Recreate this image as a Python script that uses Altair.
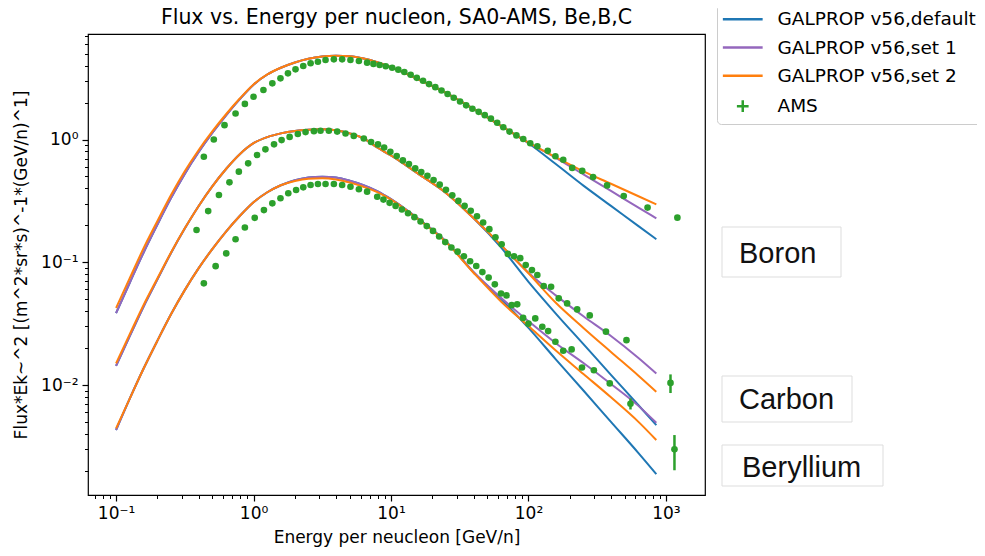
import altair as alt
import pandas as pd

# ---------------- data ----------------
MODEL_E = [0.1, 0.126, 0.158, 0.2, 0.251, 0.316, 0.398, 0.501, 0.631, 0.794, 1.0, 1.26, 1.58, 2.0,
           2.51, 3.16, 3.98, 5.01, 6.31, 7.94, 10.0, 15.8, 25.1, 39.8, 63.1, 100, 158, 251, 398, 631, 851]

C_SET2 = [0.0424, 0.0745, 0.129, 0.217, 0.353, 0.551, 0.818, 1.164, 1.607, 2.158, 2.812, 3.388, 3.846, 4.246,
          4.55, 4.742, 4.808, 4.764, 4.571, 4.266, 3.89, 3.09, 2.399, 1.778, 1.291, 0.944, 0.719, 0.55, 0.436, 0.345, 0.296]
C_SET1 = [0.0385, 0.0684, 0.119, 0.203, 0.333, 0.525, 0.787, 1.130, 1.574, 2.133, 2.799, 3.388, 3.846, 4.246,
          4.55, 4.742, 4.808, 4.764, 4.571, 4.266, 3.89, 3.09, 2.399, 1.778, 1.291, 0.944, 0.71, 0.52, 0.381, 0.279, 0.228]
C_DEF = [0.0385, 0.0684, 0.119, 0.203, 0.333, 0.525, 0.787, 1.130, 1.574, 2.133, 2.799, 3.388, 3.846, 4.246,
         4.55, 4.742, 4.808, 4.764, 4.571, 4.266, 3.89, 3.09, 2.399, 1.778, 1.291, 0.933, 0.631, 0.421, 0.288, 0.197, 0.154]

B_SET2 = [0.0150, 0.0261, 0.0445, 0.0741, 0.120, 0.189, 0.286, 0.415, 0.575, 0.759, 0.933, 1.047, 1.122, 1.175,
          1.202, 1.211, 1.189, 1.122, 1.023, 0.861, 0.741, 0.525, 0.367, 0.229, 0.138, 0.0813, 0.0468, 0.0292, 0.0186, 0.0119, 0.0088]
B_SET1 = [0.0143, 0.0251, 0.0432, 0.0726, 0.119, 0.188, 0.286, 0.415, 0.575, 0.759, 0.933, 1.047, 1.122, 1.175,
          1.202, 1.211, 1.189, 1.122, 1.023, 0.861, 0.741, 0.525, 0.367, 0.229, 0.138, 0.0822, 0.0537, 0.0363, 0.0251, 0.0166, 0.0124]
B_DEF = [0.0143, 0.0251, 0.0432, 0.0726, 0.119, 0.188, 0.286, 0.415, 0.575, 0.759, 0.933, 1.047, 1.122, 1.175,
         1.202, 1.211, 1.189, 1.122, 1.023, 0.861, 0.741, 0.525, 0.367, 0.229, 0.132, 0.0692, 0.0382, 0.0215, 0.0121, 0.00684, 0.00471]

BE_SET2 = [0.00443, 0.00778, 0.0135, 0.0230, 0.0377, 0.0593, 0.0891, 0.128, 0.178, 0.238, 0.308, 0.372, 0.424, 0.460,
           0.480, 0.484, 0.473, 0.447, 0.412, 0.373, 0.324, 0.224, 0.146, 0.0822, 0.0479, 0.0302, 0.0191, 0.0123, 0.00794, 0.00501, 0.00356]
BE_SET1 = [0.0043, 0.00778, 0.0135, 0.0230, 0.0377, 0.0593, 0.0891, 0.128, 0.178, 0.238, 0.308, 0.372, 0.424, 0.466,
           0.490, 0.498, 0.49, 0.462, 0.425, 0.38, 0.327, 0.226, 0.148, 0.0832, 0.0513, 0.0331, 0.0219, 0.0151, 0.0102, 0.00676, 0.00492]
BE_DEF = [0.0043, 0.00778, 0.0135, 0.0230, 0.0377, 0.0593, 0.0891, 0.128, 0.178, 0.238, 0.308, 0.372, 0.424, 0.466,
          0.490, 0.498, 0.49, 0.462, 0.425, 0.38, 0.327, 0.226, 0.148, 0.0832, 0.0501, 0.0292, 0.0162, 0.00902, 0.00501, 0.00279, 0.00188]

AMS_C_E = [0.435, 0.514, 0.615, 0.74, 0.865, 1.0, 1.18, 1.37, 1.57, 1.78, 2.02, 2.3, 2.6, 2.94, 3.34, 3.84, 4.41,
           5.07, 5.84, 6.7, 7.45, 8.26, 9.16, 10.2, 11.3, 12.5, 13.9, 15.4, 17.1, 18.9, 21.0, 23.3, 25.8, 28.6, 31.8,
           35.2, 39.1, 43.4, 48.1, 53.3, 59.2, 65.6, 72.8, 81.7, 91.6, 103, 116, 138, 157, 179, 208, 246, 295, 373,
           493, 735, 1211]
AMS_C_F = [0.724, 1.0, 1.31, 1.63, 1.95, 2.23, 2.53, 2.87, 3.15, 3.46, 3.73, 3.97, 4.18, 4.3, 4.45, 4.5, 4.5,
           4.45, 4.36, 4.23, 4.13, 4.05, 3.95, 3.84, 3.71, 3.55, 3.37, 3.18, 3.01, 2.83, 2.67, 2.51, 2.35, 2.19, 2.04,
           1.90, 1.78, 1.68, 1.58, 1.48, 1.37, 1.26, 1.16, 1.08, 1.01, 0.933, 0.881, 0.809, 0.73, 0.684, 0.587, 0.555,
           0.494, 0.423, 0.347, 0.279, 0.231]

AMS_B_E = [0.385, 0.468, 0.56, 0.668, 0.782, 0.914, 1.06, 1.22, 1.41, 1.6, 1.83, 2.1, 2.39, 2.75, 3.07, 3.53, 4.06,
           4.67, 5.36, 6.34, 7.16, 8.04, 8.91, 9.89, 11.0, 12.2, 13.5, 15.0, 16.6, 18.4, 20.4, 22.6, 25.1, 27.9, 30.9,
           34.3, 38.0, 42.2, 46.8, 51.9, 57.5, 63.8, 70.8, 78.5, 87.1, 95.5, 106, 116, 129, 146, 166, 191, 226, 279,
           366, 516, 1079]
AMS_B_F = [0.183, 0.261, 0.353, 0.448, 0.547, 0.64, 0.748, 0.832, 0.914, 0.99, 1.05, 1.11, 1.15, 1.17, 1.18, 1.18,
           1.16, 1.12, 1.07, 1.02, 0.955, 0.912, 0.861, 0.794, 0.733, 0.676, 0.631, 0.582, 0.543, 0.507, 0.468, 0.429,
           0.389, 0.351, 0.316, 0.288, 0.263, 0.237, 0.211, 0.186, 0.160, 0.140, 0.117, 0.112, 0.108, 0.0948, 0.0863,
           0.0787, 0.064, 0.0631, 0.0508, 0.0462, 0.0413, 0.0369, 0.0272, 0.0232, 0.0104]

AMS_BE_E = [0.435, 0.53, 0.633, 0.74, 0.865, 1.02, 1.19, 1.37, 1.57, 1.79, 2.04, 2.3, 2.6, 2.94, 3.34, 3.84, 4.41,
            5.07, 5.84, 6.7, 7.94, 8.81, 9.77, 10.8, 12.0, 13.3, 14.8, 16.4, 18.2, 20.2, 22.4, 24.8, 27.5, 30.5, 33.9,
            37.6, 41.7, 46.2, 51.3, 56.9, 63.1, 69.2, 75.5, 82.8, 91.4, 100, 112, 126, 139, 157, 179, 206, 245, 299,
            390, 552, 1153]
AMS_BE_F = [0.0673, 0.093, 0.118, 0.154, 0.192, 0.23, 0.266, 0.302, 0.332, 0.365, 0.388, 0.408, 0.426, 0.434, 0.434,
            0.434, 0.426, 0.412, 0.393, 0.376, 0.342, 0.324, 0.305, 0.288, 0.269, 0.251, 0.233, 0.215, 0.197, 0.18,
            0.162, 0.146, 0.132, 0.122, 0.112, 0.102, 0.0933, 0.0832, 0.075, 0.0661, 0.0556, 0.0537, 0.0447, 0.0454,
            0.0352, 0.0316, 0.0349, 0.0298, 0.0275, 0.0225, 0.019, 0.0195, 0.0139, 0.0132, 0.0103, 0.00703, 0.00299]

ERR_E = [1079, 552, 1153]
ERR_LO = [0.0086, 0.00632, 0.00202]
ERR_HI = [0.0122, 0.00778, 0.00391]

TITLE = "Flux vs. Energy per nucleon, SA0-AMS, Be,B,C"
SERIES = ["GALPROP v56,default", "GALPROP v56,set 1", "GALPROP v56,set 2", "AMS"]
COLORS = ["#1f77b4", "#9467bd", "#ff7f0e", "#2ca02c"]
SPECIES_LABELS = ["Boron", "Carbon", "Beryllium"]

MAJOR_X = [0.1, 1, 10, 100, 1000]
MINOR_X = [m * d for d in [0.01, 0.1, 1, 10, 100] for m in range(2, 10) if 0.0625 < m * d < 1900]
MAJOR_Y = [0.01, 0.1, 1]
MINOR_Y = [m * d for d in [0.001, 0.01, 0.1, 1] for m in range(2, 10) if 0.00127 < m * d < 7.2]

# ---------------- tables ----------------
model_rows = []
for series, curves in [
    (SERIES[0], [("C", C_DEF), ("B", B_DEF), ("Be", BE_DEF)]),
    (SERIES[1], [("C", C_SET1), ("B", B_SET1), ("Be", BE_SET1)]),
    (SERIES[2], [("C", C_SET2), ("B", B_SET2), ("Be", BE_SET2)]),
]:
    for sp, vals in curves:
        for e, f in zip(MODEL_E, vals):
            model_rows.append({"series": series, "species": sp, "energy": e, "flux": f})
model_df = pd.DataFrame(model_rows)

ams_rows = []
for sp, es, fs in [("C", AMS_C_E, AMS_C_F), ("B", AMS_B_E, AMS_B_F), ("Be", AMS_BE_E, AMS_BE_F)]:
    for e, f in zip(es, fs):
        ams_rows.append({"series": "AMS", "species": sp, "energy": e, "flux": f})
ams_df = pd.DataFrame(ams_rows)
err_df = pd.DataFrame({"series": "AMS", "energy": ERR_E, "lo": ERR_LO, "hi": ERR_HI})

# ---------------- styling ----------------
FONT = "DejaVu Sans"
x_scale = alt.Scale(type="log", domain=[0.0625, 1923], nice=False)
y_scale = alt.Scale(type="log", domain=[0.00127, 7.24], nice=False)
color_scale = alt.Scale(domain=SERIES, range=COLORS)

LBL = "'10' + ['\u207b\u00b3','\u207b\u00b2','\u207b\u00b9','\u2070','\u00b9','\u00b2','\u00b3'][round(log(datum.value)/LN10)+3]"

x_major = alt.Axis(values=MAJOR_X, labelExpr=LBL, tickSize=6, tickWidth=1.2, tickColor="black",
                   labelFont=FONT, labelFontSize=17, labelColor="black", labelPadding=4, labelFlush=False,
                   domain=False, grid=False, orient="bottom",
                   title="Energy per neucleon [GeV/n]", titleFont=FONT, titleFontSize=17,
                   titleFontWeight="normal", titleColor="black", titlePadding=8)
x_minor = alt.Axis(values=MINOR_X, labels=False, tickSize=3.5, tickWidth=1, tickColor="black",
                   domain=False, grid=False, orient="bottom", title=None)
y_major = alt.Axis(values=MAJOR_Y, labelExpr=LBL, tickSize=6, tickWidth=1.2, tickColor="black",
                   labelFont=FONT, labelFontSize=17, labelColor="black", labelPadding=4, labelFlush=False,
                   domain=False, grid=False, orient="left",
                   title="Flux*Ek~^2 [(m^2*sr*s)^-1*(GeV/n)^1]", titleFont=FONT, titleFontSize=17,
                   titleFontWeight="normal", titleColor="black", titlePadding=10)
y_minor = alt.Axis(values=MINOR_Y, labels=False, tickSize=3.5, tickWidth=1, tickColor="black",
                   domain=False, grid=False, orient="left", title=None)

legend = alt.Legend(
    title=None, orient="none", legendX=629, legendY=-30,
    fillColor="white", strokeColor="#cccccc", cornerRadius=4, padding=6,
    labelFont=FONT, labelFontSize=18.5, labelColor="black", labelOffset=25.5, labelLimit=400,
    symbolSize=137, symbolStrokeWidth=2.5, symbolOffset=10.5, rowPadding=9.3,
    symbolType={"expr": "datum.value === 'AMS' ? 'M-1,0H1M0,-1V1' : 'M-3.4,0H3.4'"},
)


def model_layer(name, xa, ya):
    return alt.Chart(model_df).transform_filter(alt.datum.series == name).mark_line(
        strokeWidth=2, interpolate="monotone").encode(
        x=alt.X("energy:Q", scale=x_scale, axis=xa),
        y=alt.Y("flux:Q", scale=y_scale, axis=ya),
        color=alt.Color("series:N", scale=color_scale, legend=legend),
        detail="species:N",
    )


blue = model_layer(SERIES[0], x_minor, y_minor)
purple = model_layer(SERIES[1], x_major, y_major)
orange = model_layer(SERIES[2], None, None)

errs = alt.Chart(err_df).mark_rule(strokeWidth=2.5).encode(
    x=alt.X("energy:Q", scale=x_scale, axis=None),
    y=alt.Y("lo:Q", scale=y_scale, axis=None),
    y2="hi:Q",
    color=alt.Color("series:N", scale=color_scale, legend=legend),
)
points = alt.Chart(ams_df).mark_circle(size=44, opacity=1).encode(
    x=alt.X("energy:Q", scale=x_scale, axis=None),
    y=alt.Y("flux:Q", scale=y_scale, axis=None),
    color=alt.Color("series:N", scale=color_scale, legend=legend),
)

title = alt.Chart(pd.DataFrame({"t": [TITLE]})).mark_text(
    font=FONT, fontSize=20.5, color="black", align="center", baseline="alphabetic").encode(
    x=alt.value(308.5), y=alt.value(-10), text="t:N")

# species annotation boxes (outside the axes, like the reference slide)
box_specs = [
    (SPECIES_LABELS[0], 634, 753, 193, 243, 651, 229),
    (SPECIES_LABELS[1], 634, 764, 342, 388, 651, 375),
    (SPECIES_LABELS[2], 634, 795, 411, 452, 654, 443),
]
annot = []
for label, bx1, bx2, by1, by2, tx, ty in box_specs:
    d = pd.DataFrame({"label": [label]})
    annot.append(alt.Chart(d).mark_rect(fill="white", stroke="#dddddd", strokeWidth=1).encode(
        x=alt.value(bx1), x2=alt.value(bx2), y=alt.value(by1), y2=alt.value(by2)))
    annot.append(alt.Chart(d).mark_text(font="Liberation Sans", fontSize=29, color="#111111",
                                        align="left", baseline="alphabetic").encode(
        x=alt.value(tx), y=alt.value(ty), text="label:N"))

chart = alt.layer(blue, purple, orange, errs, points, title, *annot).resolve_axis(
    x="independent", y="independent"
).properties(
    width=617, height=461,
    autosize=alt.AutoSizeParams(type="none"),
    padding={"left": 80, "top": 26, "right": 272, "bottom": 53},
).configure_view(stroke="black", strokeWidth=1.2)

chart.save("out.html", embed_options={"renderer": "svg", "actions": False})
